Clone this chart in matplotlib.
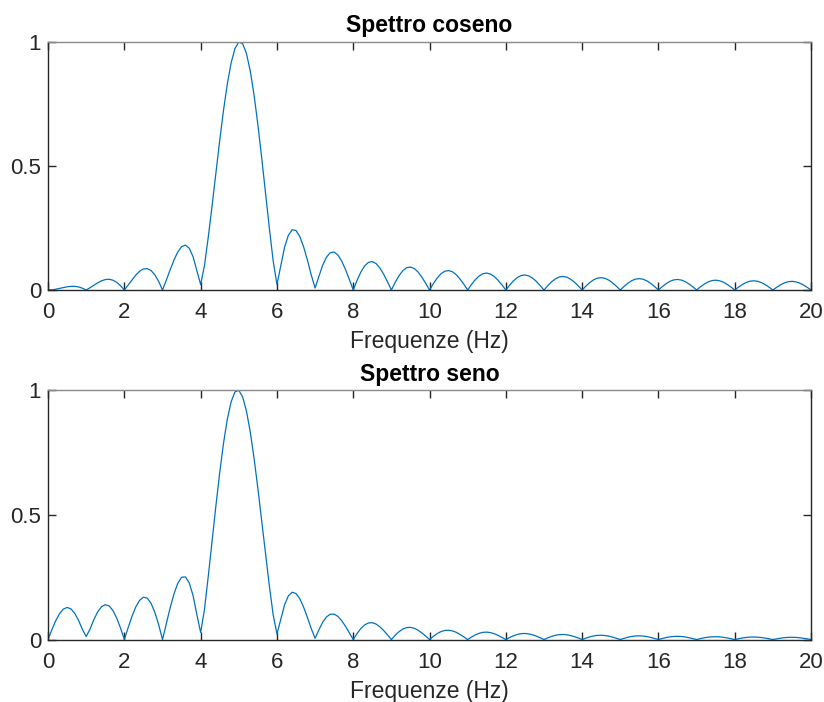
import numpy as np
import matplotlib
matplotlib.use('Agg')
import matplotlib.pyplot as plt

plt.rcParams['font.family'] = ['Liberation Sans', 'DejaVu Sans']

# frequency axis, 0.1 Hz resolution from 0 to 20 Hz
freq = np.round(np.arange(201) * 0.1, 1)

# normalised magnitude spectrum of the cosine (one row per 1 Hz interval)
spec_cos = [
    0.0, 0.0008, 0.0030, 0.0062, 0.0097, 0.0129, 0.0147, 0.0147, 0.0123, 0.0073,
    0.0, 0.0091, 0.0191, 0.0287, 0.0368, 0.0420, 0.0432, 0.0396, 0.0310, 0.0175,
    0.0, 0.0201, 0.0408, 0.0601, 0.0755, 0.0849, 0.0863, 0.0785, 0.0611, 0.0344,
    0.0, 0.0396, 0.0811, 0.1205, 0.1532, 0.1748, 0.1810, 0.1685, 0.1347, 0.0784,
    0.022, 0.0985, 0.2135, 0.3402, 0.4723, 0.6031, 0.7253, 0.8318, 0.9164, 0.9737,
    1.0, 0.9934, 0.9538, 0.8834, 0.7859, 0.6669, 0.5331, 0.3920, 0.2512, 0.1183,
    0.022, 0.0983, 0.1726, 0.2209, 0.2428, 0.2399, 0.2153, 0.1735, 0.1198, 0.0600,
    0.008, 0.0550, 0.1004, 0.1329, 0.1506, 0.1528, 0.1405, 0.1157, 0.0814, 0.0415,
    0.0, 0.0392, 0.0726, 0.0974, 0.1116, 0.1145, 0.1064, 0.0884, 0.0628, 0.0323,
    0.0, 0.0310, 0.0577, 0.0779, 0.0898, 0.0927, 0.0866, 0.0723, 0.0516, 0.0267,
    0.0, 0.0258, 0.0483, 0.0654, 0.0757, 0.0784, 0.0735, 0.0616, 0.0441, 0.0229,
    0.0, 0.0222, 0.0417, 0.0567, 0.0658, 0.0683, 0.0641, 0.0539, 0.0387, 0.0201,
    0.0, 0.0196, 0.0369, 0.0502, 0.0583, 0.0606, 0.0570, 0.0480, 0.0345, 0.0179,
    0.0, 0.0176, 0.0331, 0.0451, 0.0525, 0.0547, 0.0515, 0.0434, 0.0312, 0.0163,
    0.0, 0.0160, 0.0301, 0.0410, 0.0478, 0.0498, 0.0470, 0.0396, 0.0285, 0.0149,
    0.0, 0.0146, 0.0276, 0.0377, 0.0439, 0.0458, 0.0433, 0.0365, 0.0263, 0.0137,
    0.0, 0.0135, 0.0255, 0.0349, 0.0407, 0.0425, 0.0401, 0.0339, 0.0244, 0.0128,
    0.0, 0.0126, 0.0238, 0.0325, 0.0379, 0.0396, 0.0374, 0.0316, 0.0228, 0.0119,
    0.0, 0.0118, 0.0222, 0.0304, 0.0355, 0.0371, 0.0351, 0.0297, 0.0214, 0.0112,
    0.0, 0.0110, 0.0209, 0.0286, 0.0334, 0.0349, 0.0330, 0.0279, 0.0202, 0.0105,
    0.0,
]

# normalised magnitude spectrum of the sine
spec_sin = [
    0.0, 0.0394, 0.0750, 0.1034, 0.1219, 0.1286, 0.1229, 0.1051, 0.0768, 0.0407,
    0.012, 0.0414, 0.0794, 0.1105, 0.1314, 0.1399, 0.1349, 0.1165, 0.0860, 0.0460,
    0.0, 0.0478, 0.0928, 0.1307, 0.1573, 0.1698, 0.1660, 0.1454, 0.1090, 0.0593,
    0.0, 0.0639, 0.1268, 0.1825, 0.2253, 0.2497, 0.2514, 0.2277, 0.1772, 0.1005,
    0.028, 0.1201, 0.2542, 0.3956, 0.5368, 0.6701, 0.7884, 0.8849, 0.9546, 0.9936,
    1.0, 0.9739, 0.9172, 0.8334, 0.7277, 0.6063, 0.4760, 0.3438, 0.2166, 0.1003,
    0.022, 0.0806, 0.1392, 0.1753, 0.1897, 0.1845, 0.1631, 0.1295, 0.0881, 0.0435,
    0.005, 0.0387, 0.0697, 0.0910, 0.1017, 0.1019, 0.0924, 0.0751, 0.0522, 0.0263,
    0.0, 0.0242, 0.0443, 0.0587, 0.0665, 0.0674, 0.0618, 0.0508, 0.0357, 0.0182,
    0.0, 0.0170, 0.0314, 0.0419, 0.0478, 0.0488, 0.0451, 0.0373, 0.0263, 0.0135,
    0.0, 0.0128, 0.0237, 0.0318, 0.0364, 0.0373, 0.0347, 0.0288, 0.0204, 0.0105,
    0.0, 0.0100, 0.0186, 0.0251, 0.0288, 0.0297, 0.0276, 0.0230, 0.0164, 0.0084,
    0.0, 0.0081, 0.0151, 0.0204, 0.0235, 0.0243, 0.0226, 0.0189, 0.0135, 0.0070,
    0.0, 0.0067, 0.0125, 0.0170, 0.0196, 0.0202, 0.0189, 0.0158, 0.0113, 0.0059,
    0.0, 0.0057, 0.0106, 0.0144, 0.0166, 0.0172, 0.0161, 0.0135, 0.0096, 0.0050,
    0.0, 0.0049, 0.0091, 0.0123, 0.0143, 0.0148, 0.0139, 0.0116, 0.0083, 0.0043,
    0.0, 0.0042, 0.0079, 0.0107, 0.0124, 0.0129, 0.0121, 0.0101, 0.0073, 0.0038,
    0.0, 0.0037, 0.0069, 0.0094, 0.0109, 0.0113, 0.0106, 0.0089, 0.0064, 0.0033,
    0.0, 0.0033, 0.0061, 0.0083, 0.0097, 0.0100, 0.0094, 0.0079, 0.0057, 0.0030,
    0.0, 0.0029, 0.0054, 0.0074, 0.0086, 0.0090, 0.0084, 0.0071, 0.0051, 0.0027,
    0.0,
]

titles = ['Spettro coseno', 'Spettro seno']
xticks = list(range(0, 21, 2))
yticks = [0, 0.5, 1]
yticklabels = ['0', '0.5', '1']

LINE = '#0072BD'
AXC = '#262626'

fig = plt.figure(figsize=(8.24, 7.02), dpi=100)
positions = [[0.0583, 0.5869, 0.926, 0.3533],
             [0.0583, 0.0890, 0.926, 0.3550]]

for pos, spec, title in zip(positions, [spec_cos, spec_sin], titles):
    ax = fig.add_axes(pos)
    ax.plot(freq, spec, color=LINE, lw=0.9)
    ax.set_xlim(0, 20)
    ax.set_ylim(0, 1)
    ax.set_xticks(xticks)
    ax.set_yticks(yticks)
    ax.set_yticklabels(yticklabels)
    ax.tick_params(direction='in', length=6, width=1.0, colors=AXC,
                   labelsize=16, top=True, right=True)
    ax.tick_params(axis='x', pad=9)
    ax.tick_params(axis='y', pad=5)
    for side, sp in ax.spines.items():
        sp.set_linewidth(1.0)
        sp.set_color('#8a8a8a' if side == 'top' else AXC)
    ax.set_title(title, fontsize=16.5, fontweight='bold', color='black', pad=7)
    ax.set_xlabel('Frequenze (Hz)', fontsize=16.5, color=AXC, labelpad=5)

fig.savefig('out.png', dpi=100)
